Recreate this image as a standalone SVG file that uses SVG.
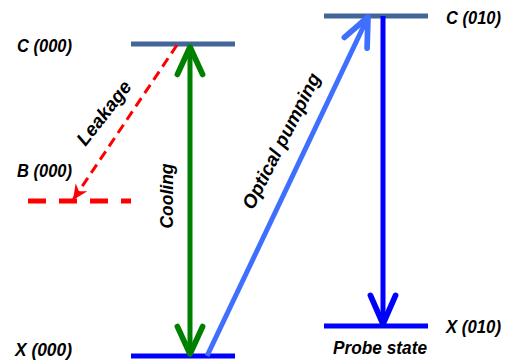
<svg xmlns="http://www.w3.org/2000/svg" width="506" height="362" viewBox="0 0 506 362">
<defs>
<style>
text{font-family:"Liberation Sans",Arial,sans-serif;font-weight:bold;font-style:italic;font-size:19px;fill:#000}
.rt{font-size:17.5px}
.lvl{stroke-width:5;fill:none}
.cst{stroke:#42659a}
.xst{stroke:#0000ff}
</style>
<marker id="hg" markerUnits="userSpaceOnUse" orient="auto-start-reverse" refX="0" refY="0" markerWidth="40" markerHeight="40" viewBox="-30 -15 35 30" overflow="visible">
<path d="M-24,-11 L0,0 L-24,11" fill="none" stroke="#008000" stroke-width="5" stroke-linecap="round" stroke-linejoin="round"/>
</marker>
<marker id="hp" markerUnits="userSpaceOnUse" orient="auto" refX="0" refY="0" markerWidth="40" markerHeight="40" viewBox="-30 -15 35 30" overflow="visible">
<path d="M-25,-11 L0,0 L-25,11" fill="none" stroke="#3f6fff" stroke-width="5" stroke-linecap="round" stroke-linejoin="round"/>
</marker>
<marker id="hb" markerUnits="userSpaceOnUse" orient="auto" refX="0" refY="0" markerWidth="40" markerHeight="40" viewBox="-30 -15 35 30" overflow="visible">
<path d="M-25,-11 L0,0 L-25,11" fill="none" stroke="#0000ff" stroke-width="5" stroke-linecap="round" stroke-linejoin="round"/>
</marker>
<marker id="hr" markerUnits="userSpaceOnUse" orient="auto" refX="0" refY="0" markerWidth="20" markerHeight="20" viewBox="-15 -8 17 16" overflow="visible">
<path d="M0,0 L-13,-6 L-9,0 L-13,6 Z" fill="#ff0000"/>
</marker>
</defs>
<g id="C000">
<line class="lvl cst" x1="131" y1="44" x2="235" y2="44"/>
<text x="17" y="52" textLength="55" lengthAdjust="spacingAndGlyphs">C (000)</text>
</g>
<g id="B000">
<line class="lvl" stroke="#ff0000" stroke-width="4" stroke-dasharray="18 13" x1="28" y1="201" x2="131" y2="201"/>
<text x="17" y="177" textLength="55" lengthAdjust="spacingAndGlyphs">B (000)</text>
</g>
<g id="X000">
<line class="lvl xst" x1="131" y1="356" x2="235" y2="356"/>
<text x="15" y="356" textLength="57" lengthAdjust="spacingAndGlyphs">X (000)</text>
</g>
<g id="C010">
<line class="lvl cst" x1="324" y1="16" x2="428" y2="16"/>
<text class="rt" x="446" y="24" textLength="55" lengthAdjust="spacingAndGlyphs">C (010)</text>
</g>
<g id="X010">
<line class="lvl xst" x1="324" y1="326" x2="428" y2="326"/>
<text class="rt" x="446" y="333" textLength="55" lengthAdjust="spacingAndGlyphs">X (010)</text>
<text x="333" y="354" textLength="94" lengthAdjust="spacingAndGlyphs">Probe state</text>
</g>
<g id="connectors">
<line x1="177" y1="45" x2="73" y2="200" stroke="#ff0000" stroke-width="3" stroke-dasharray="10 6" marker-end="url(#hr)"/>
<text transform="translate(109,117) rotate(-52)" text-anchor="middle">Leakage</text>
<line x1="190" y1="47" x2="190" y2="354" stroke="#008000" stroke-width="5" marker-start="url(#hg)" marker-end="url(#hg)"/>
<text transform="translate(173,196) rotate(-90)" text-anchor="middle" style="font-size:18px" textLength="65" lengthAdjust="spacingAndGlyphs">Cooling</text>
<line x1="207" y1="356" x2="368" y2="17" stroke="#3f6fff" stroke-width="5" marker-end="url(#hp)"/>
<text transform="translate(287,144) rotate(-63)" text-anchor="middle">Optical pumping</text>
<line x1="383" y1="16" x2="383" y2="324" stroke="#0000ff" stroke-width="5" marker-end="url(#hb)"/>
</g>
</svg>
